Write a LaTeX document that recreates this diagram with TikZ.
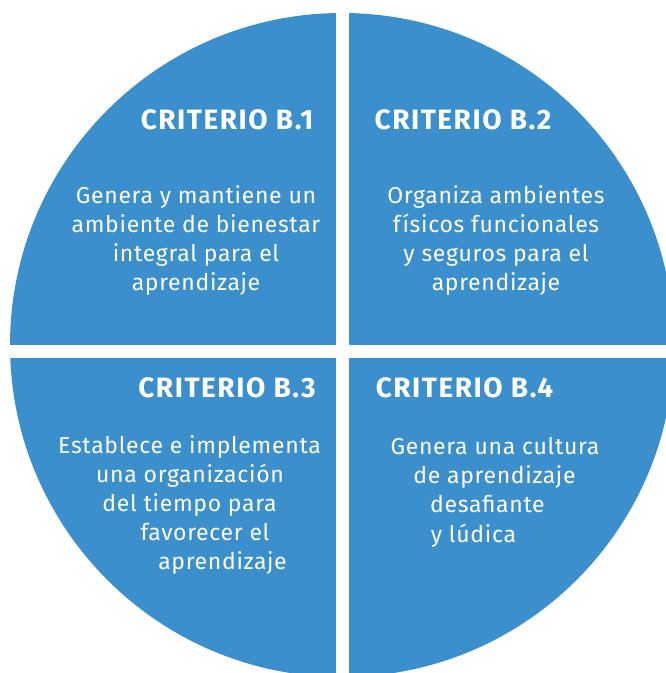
\documentclass[tikz,border=0pt]{standalone}
\usepackage{fontspec}
\setmainfont{Fira Sans}
\newfontfamily\ttlfont[LetterSpace=5.5]{Fira Sans}
\newfontfamily\bdyfont[LetterSpace=3]{Fira Sans}
\definecolor{qblue}{RGB}{59,143,204}
\tikzset{
  ttl/.style={text=white, font=\ttlfont\fontsize{28}{32}\selectfont\bfseries, anchor=base, inner sep=0pt},
  bdy/.style={text=white, font=\bdyfont\fontsize{23}{27}\selectfont, anchor=base, inner sep=0pt},
}
\begin{document}
\begin{tikzpicture}[x=1pt,y=-1pt]
\useasboundingbox (0,0) rectangle (666,673);
\fill[white] (0,0) rectangle (666,673);
\begin{scope}
\clip (0,0) rectangle (666,673);
\fill[qblue] (342,345) circle[radius=332];
\fill[white] (336,-5) rectangle (349,680);
\fill[white] (-5,345) rectangle (670,358);
\end{scope}
% Quadrant 1
\node[ttl] (t1) at (227,129) {CRITERIO B.1};
\node[bdy] (a1) at (196,203) {Genera y mantiene un};
\node[bdy] (a2) at (196,232) {ambiente de bienestar};
\node[bdy] (a3) at (196,261) {integral para el};
\node[bdy] (a4) at (196,290) {aprendizaje};
% Quadrant 2
\node[ttl] (t2) at (463,129) {CRITERIO B.2};
\node[bdy] (b1) at (496,203) {Organiza ambientes};
\node[bdy] (b2) at (496,232) {físicos funcionales};
\node[bdy] (b3) at (496,261) {y seguros para el};
\node[bdy] (b4) at (496,290) {aprendizaje};
% Quadrant 3
\node[ttl] (t3) at (227,397) {CRITERIO B.3};
\node[bdy] (c1) at (189.5,453) {Establece e implementa};
\node[bdy] (c2) at (190,482) {una organización};
\node[bdy] (c3) at (189.5,511) {del tiempo para};
\node[bdy] (c4) at (205,540) {favorecer el};
\node[bdy] (c5) at (222.5,569) {aprendizaje};
% Quadrant 4
\node[ttl] (t4) at (464.5,397) {CRITERIO B.4};
\node[bdy] (d1) at (495,454) {Genera una cultura};
\node[bdy] (d2) at (494.5,483) {de aprendizaje};
\node[bdy] (d3) at (487.5,512) {desafiante};
\node[bdy] (d4) at (473.5,542) {y lúdica};
\end{tikzpicture}
\end{document}
